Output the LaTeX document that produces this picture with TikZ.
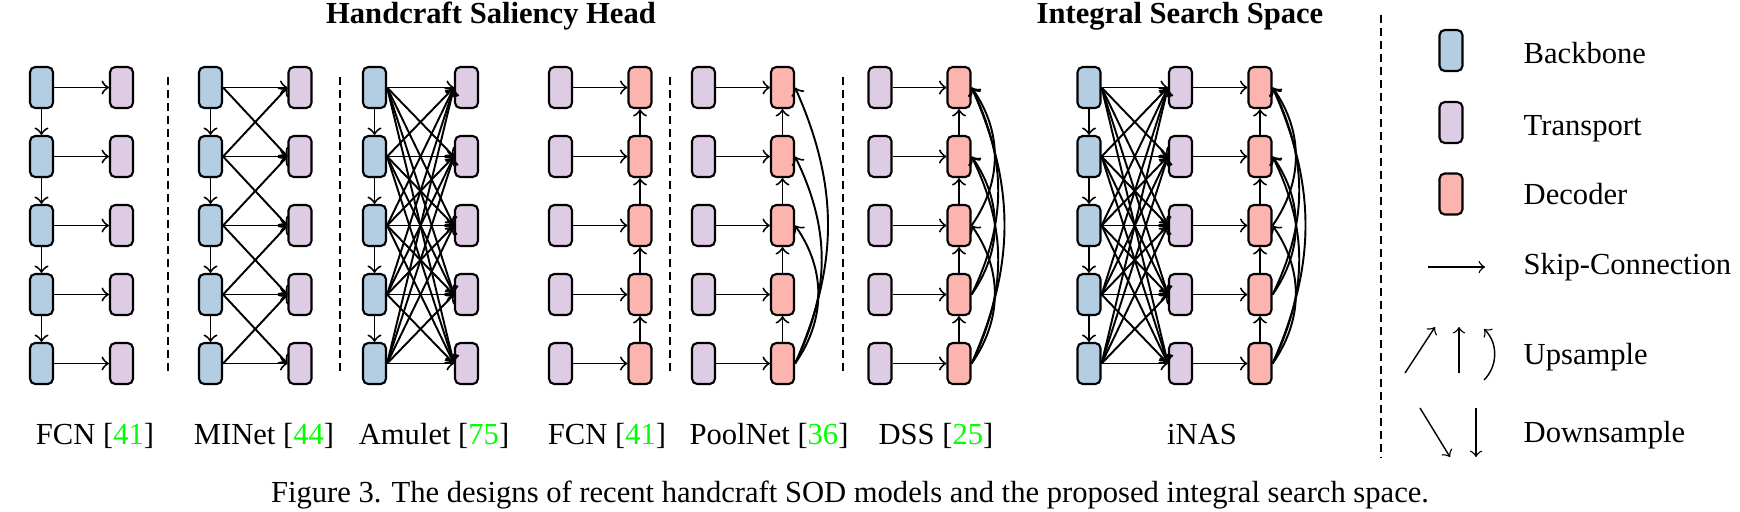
\documentclass[tikz,border=0pt]{standalone}
\usepackage{fontspec}
\setmainfont{Liberation Serif}
\definecolor{bbone}{RGB}{179,205,227}
\definecolor{trans}{RGB}{222,203,228}
\definecolor{deco}{RGB}{251,180,174}
\definecolor{citegreen}{RGB}{0,255,0}
\newcommand{\refno}[1]{[\textcolor{citegreen}{#1}]}
\tikzset{
  blk/.style={draw,rounded corners=1.5pt,line width=0.6pt,minimum width=0.23cm,minimum height=0.41cm,inner sep=0pt},
  bb/.style={blk,fill=bbone},
  tp/.style={blk,fill=trans},
  dc/.style={blk,fill=deco},
  cn/.style={->,line width=0.55pt},
  lgcn/.style={->,line width=0.4pt},
  sep/.style={line width=0.8pt,dash pattern=on 2.3pt off 1.4pt},
  lab/.style={anchor=base},
  lgtxt/.style={anchor=base west,inner sep=0pt}
}
\begin{document}
\begin{tikzpicture}[x=0.01cm,y=-0.01cm,font=\fontsize{8.7}{10.4}\selectfont]
\useasboundingbox (0,0) rectangle (1740,511);
\foreach \i in {1,...,5}{
  \pgfmathsetmacro{\y}{87.5+(\i-1)*69}
  \node[bb] (fcnB\i) at (41.5,\y) {};
  \node[tp] (fcnT\i) at (121.5,\y) {};
  \node[bb] (minB\i) at (210.5,\y) {};
  \node[tp] (minT\i) at (300,\y) {};
  \node[bb] (amuB\i) at (374.5,\y) {};
  \node[tp] (amuT\i) at (466.5,\y) {};
  \node[tp] (fcdT\i) at (560.5,\y) {};
  \node[dc] (fcdD\i) at (640,\y) {};
  \node[tp] (poolT\i) at (703.5,\y) {};
  \node[dc] (poolD\i) at (782.5,\y) {};
  \node[tp] (dssT\i) at (880,\y) {};
  \node[dc] (dssD\i) at (959,\y) {};
  \node[bb] (inasB\i) at (1089,\y) {};
  \node[tp] (inasT\i) at (1180.5,\y) {};
  \node[dc] (inasD\i) at (1260,\y) {};
}
\foreach \i in {1,...,5}{
  \draw[cn] (fcnB\i) -- (fcnT\i);
  \draw[cn] (minB\i.east) -- (minT\i.west);
  \draw[cn] (fcdT\i) -- (fcdD\i);
  \draw[cn] (poolT\i) -- (poolD\i);
  \draw[cn] (dssT\i) -- (dssD\i);
  \draw[cn] (inasT\i) -- (inasD\i);
  \foreach \j in {1,...,5}{
    \draw[cn] (amuB\i.east) -- (amuT\j.west);
    \draw[cn] (inasB\i.east) -- (inasT\j.west);
  }
}
\foreach \i/\j in {1/2,2/3,3/4,4/5}{
  \draw[cn] (fcnB\i) -- (fcnB\j);
  \draw[cn] (minB\i) -- (minB\j);
  \draw[cn] (amuB\i) -- (amuB\j);
  \draw[cn] (inasB\i) -- (inasB\j);
  \draw[cn] (minB\i.east) -- (minT\j.west);
  \draw[cn] (minB\j.east) -- (minT\i.west);
  \draw[cn] (fcdD\j) -- (fcdD\i);
  \draw[cn] (poolD\j) -- (poolD\i);
  \draw[cn] (dssD\j) -- (dssD\i);
  \draw[cn] (inasD\j) -- (inasD\i);
}
\foreach \j/\i/\a in {5/1/24,5/2/26,5/3/35}
  \draw[cn] (poolD\j.east) to[bend right=\a] (poolD\i.east);
\foreach \j/\i/\a in {3/1/35,4/1/26,4/2/35,5/1/24,5/2/26,5/3/35}{
  \draw[cn] (dssD\j.east) to[bend right=\a] (dssD\i.east);
  \draw[cn] (inasD\j.east) to[bend right=\a] (inasD\i.east);
}
\foreach \x in {168,340,670,843}
  \draw[sep] (\x,77) -- (\x,372);
\draw[sep,line width=0.6pt] (1381,15) -- (1381,458);
\node[lab,font=\fontsize{8.7}{10.4}\selectfont\bfseries] (hdHand) at (491,23) {Handcraft Saliency Head};
\node[lab,font=\fontsize{8.7}{10.4}\selectfont\bfseries] (hdInt) at (1180,23) {Integral Search Space};
\node[lab] (lbFcn) at (95,444) {FCN \refno{41}};
\node[lab] (lbMin) at (264,444) {MINet \refno{44}};
\node[lab] (lbAmu) at (434,444) {Amulet \refno{75}};
\node[lab] (lbFcd) at (607,444) {FCN \refno{41}};
\node[lab] (lbPool) at (769,444) {PoolNet \refno{36}};
\node[lab] (lbDss) at (936,444) {DSS \refno{25}};
\node[lab] (lbInas) at (1202,444) {iNAS};
\node[lab] (cap) at (850,502) {Figure 3. The designs of recent handcraft SOD models and the proposed integral search space.};
\node[bb] (lgB) at (1451,50.5) {};
\node[tp] (lgT) at (1451,122.5) {};
\node[dc] (lgD) at (1451,194) {};
\node[lgtxt] (lgBt) at (1523,63) {Backbone};
\node[lgtxt] (lgTt) at (1523,135) {Transport};
\node[lgtxt] (lgDt) at (1523,204) {Decoder};
\node[lgtxt] (lgSt) at (1523,274) {Skip-Connection};
\node[lgtxt] (lgUt) at (1523,364) {Upsample};
\node[lgtxt] (lgDnt) at (1523,442) {Downsample};
\coordinate (skA) at (1428,267);
\coordinate (skB) at (1485,267);
\coordinate (upA) at (1405,373);
\coordinate (upB) at (1435,327);
\coordinate (upC) at (1459,373);
\coordinate (upD) at (1459,327);
\coordinate (upE) at (1484,380);
\coordinate (upF) at (1484,329);
\coordinate (dnA) at (1420,408);
\coordinate (dnB) at (1450,457);
\coordinate (dnC) at (1476,408);
\coordinate (dnD) at (1476,457);
\draw[lgcn] (skA) -- (skB);
\draw[lgcn] (upA) -- (upB);
\draw[lgcn] (upC) -- (upD);
\draw[lgcn] (upE) to[bend right=45] (upF);
\draw[lgcn] (dnA) -- (dnB);
\draw[lgcn] (dnC) -- (dnD);
\end{tikzpicture}
\end{document}
